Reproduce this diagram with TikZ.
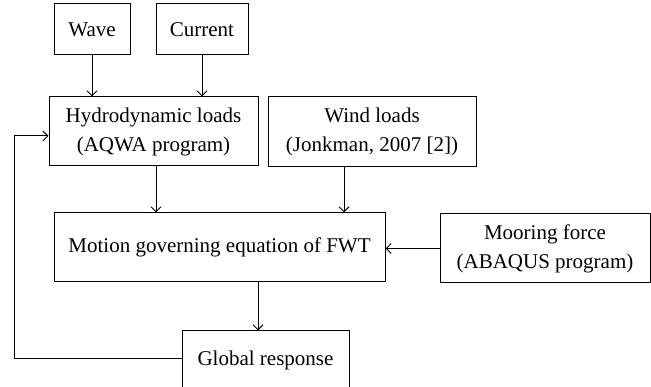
\documentclass[tikz,border=0pt]{standalone}
\usepackage{fontspec}
\setmainfont{Liberation Serif}
\usetikzlibrary{arrows.meta}
\begin{document}
\begin{tikzpicture}[x=1pt,y=-1pt,
  box/.style={draw, line width=1pt, inner sep=0pt, align=center,
    font=\fontsize{21}{29}\selectfont},
  arr/.style={line width=1pt, -{Straight Barb[length=5pt,width=10pt,line width=1pt]}}]
\useasboundingbox (0,0) rectangle (651,387);
\clip (0,0) rectangle (651,387);
\node[box, minimum width=76pt, minimum height=51pt] (wave) at (92,29.5) {Wave};
\node[box, minimum width=92pt, minimum height=51pt] (current) at (202,29.5) {Current};
\node[box, minimum width=209pt, minimum height=69pt] (hydro) at (153.5,131.5) {Hydrodynamic loads\\(AQWA program)};
\node[box, minimum width=208pt, minimum height=70pt] (wind) at (372,132) {Wind loads\\(Jonkman, 2007 [2])};
\node[box, minimum width=331pt, minimum height=69pt] (motion) at (219.5,247.5) {Motion governing equation of FWT};
\node[box, minimum width=210pt, minimum height=69pt] (mooring) at (545,248.5) {Mooring force\\(ABAQUS program)};
\node[box, minimum width=167pt, minimum height=58pt] (global) at (265.5,360) {Global response};
\coordinate (fb1) at (14,359);
\coordinate (fb2) at (14,136);
\draw[arr] (wave.south) -- (wave.south |- hydro.north);
\draw[arr] (current.south) -- (current.south |- hydro.north);
\draw[arr] ([xshift=2.5pt]hydro.south) -- ([xshift=2.5pt]hydro.south |- motion.north);
\draw[arr] ([xshift=-28pt]wind.south) -- ([xshift=-28pt]wind.south |- motion.north);
\draw[arr] (mooring.west) -- (mooring.west -| motion.east);
\draw[arr] ([xshift=38.5pt]motion.south) -- ([xshift=38.5pt]motion.south |- global.north);
\draw[arr] (global.west |- fb1) -- (fb1) -- (fb2) -- (fb2 -| hydro.west);
\end{tikzpicture}
\end{document}
